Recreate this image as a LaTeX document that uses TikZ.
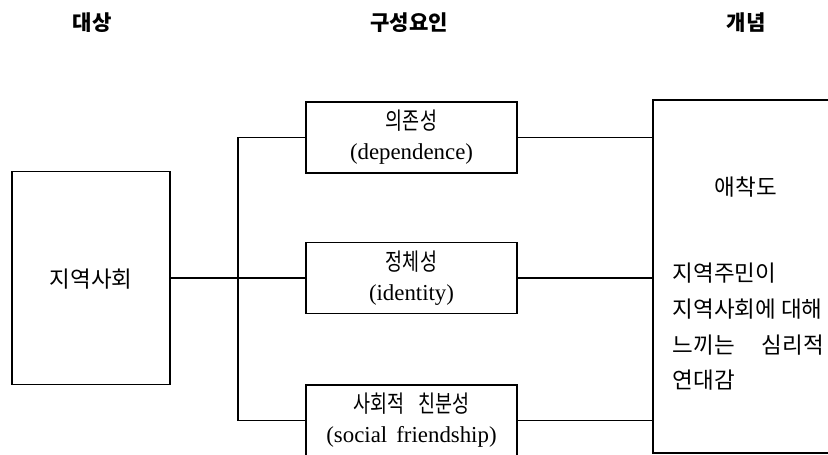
\documentclass[tikz,border=0pt]{standalone}
\usepackage{fontspec}
\setmainfont{Liberation Serif}
\newfontfamily\kr{Noto Sans CJK KR}
\newfontfamily\krn[FakeStretch=0.78]{Noto Sans CJK KR}
\usetikzlibrary{
    positioning,
    calc
}

\begin{document}
\begin{tikzpicture}[x=0.02cm, y=-0.02cm, line width=0.9pt,
        hdr/.style={font=\kr\bfseries\fontsize{12}{14}\selectfont},
        krtxt/.style={font=\kr\fontsize{12.8}{20.3}\selectfont},
        factor/.style={draw, minimum width=4.22cm, minimum height=1.42cm, align=center,
            inner sep=0pt, font=\fontsize{13}{17}\selectfont}]
    \useasboundingbox (0, 0) rectangle (828, 455);
    \clip (0, 0) rectangle (828, 455);

    % column heads
    \node[hdr] (h1) at (92, 23) {대상};
    \node[hdr] (h2) at (409, 23) {구성요인};
    \node[hdr] (h3) at (746, 23) {개념};

    \node[draw, krtxt, minimum width=3.16cm, minimum height=4.26cm, text depth=-2pt] (comm) at (91, 278) {지역사회};

    \node[factor] (dep) at (411.5, 137.5) {{\krn\fontsize{13.5}{17}\selectfont 의존성}\\(dependence)};
    \node[factor] (ident) at (411.5, 278) {{\krn\fontsize{13.5}{17}\selectfont 정체성}\\(identity)};
    \node[factor] (soc) at (411.5, 420.5) {{\krn\fontsize{13.5}{17}\selectfont 사회적\hspace{0.6em}친분성}\\(social\hspace{0.4em}friendship)};

    \node[draw, minimum width=4.34cm, minimum height=7.06cm] (attach) at (761.5, 276.5) {};
    \node[krtxt] (atname) at (746, 187) {애착도};
    \node[krtxt, align=left, anchor=west, inner sep=0pt] (atdef) at (672, 327)
        {지역주민이\\지역사회에 대해\\느끼는\hspace{1.2em}심리적\\연대감};

    \coordinate (jn) at (238, 278);
    \draw (comm.east) -- (ident.west);
    \draw (dep.west) -| (jn) |- (soc.west);
    \draw
    (dep.east) edge (dep.east -| attach.west)
    (ident.east) edge (ident.east -| attach.west)
    (soc.east) edge (soc.east -| attach.west);
\end{tikzpicture}
\end{document}
